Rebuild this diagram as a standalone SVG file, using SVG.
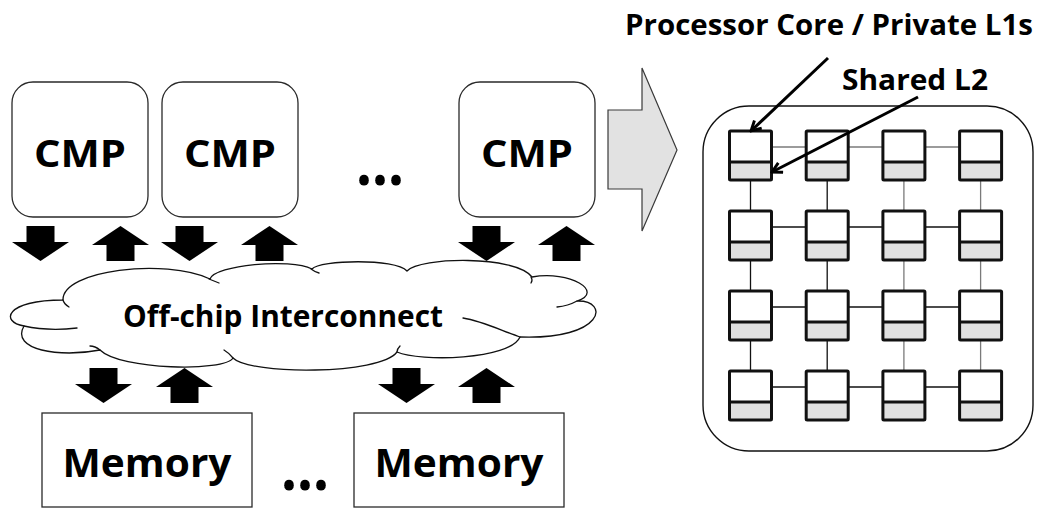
<svg xmlns="http://www.w3.org/2000/svg" width="1038" height="508" viewBox="0 0 1038 508">
  <style>
    .lbl { font-family: "Open Sans", Lato, "Liberation Sans", sans-serif; font-weight: 700; fill: #000; }
    .box { fill: #fff; stroke: #2a2a2a; stroke-width: 1.3; }
    .blk { fill: #000; }
    .cloud { fill: #fff; stroke: #111; stroke-width: 1.3; stroke-linejoin: round; }
    .tail { fill: none; stroke: #111; stroke-width: 1.3; stroke-linecap: round; }
    .tile { fill: none; stroke: #111; stroke-width: 3; stroke-linejoin: round; }
    .l2 { fill: #e0e0e0; }
    .core { fill: #fff; }
    .link { stroke: #111; stroke-width: 1.3; }
    .link.g { stroke: #7a7a7a; }
    .ptr { fill: none; stroke: #000; stroke-width: 3; marker-end: url(#chev); }
  </style>
  <defs>
    <!-- block arrows, 57 x 35 -->
    <path id="dn" d="M14.5,0 H42.5 V16 H57 L28.5,35 L0,16 H14.5 Z"/>
    <path id="up" d="M28.5,0 L57,19 H42.5 V35 H14.5 V19 H0 Z"/>
    <marker id="chev" viewBox="0 0 10 10" refX="8.6" refY="5" markerWidth="4.4" markerHeight="4.4" orient="auto" markerUnits="strokeWidth">
      <path d="M1.2,1 L8.6,5 L1.2,9" fill="none" stroke="#000" stroke-width="2.2" stroke-linejoin="miter"/>
    </marker>
    <!-- one tile: private L1 on top, shared L2 slice below -->
    <g id="tile">
      <rect class="core" x="0" y="0" width="42" height="31"/>
      <rect class="l2" x="0" y="31" width="42" height="18"/>
      <rect class="tile" x="0" y="0" width="42" height="49" rx="1"/>
      <line class="tile" x1="0" y1="31" x2="42" y2="31"/>
    </g>
  </defs>

  <!-- CMP nodes -->
  <g id="cmp-1">
    <rect class="box" x="12" y="82" width="136" height="135" rx="21"/>
    <text class="lbl" x="80" y="167" font-size="38" text-anchor="middle" textLength="92" lengthAdjust="spacingAndGlyphs">CMP</text>
  </g>
  <g id="cmp-2">
    <rect class="box" x="162" y="82" width="136" height="135" rx="21"/>
    <text class="lbl" x="230" y="167" font-size="38" text-anchor="middle" textLength="92" lengthAdjust="spacingAndGlyphs">CMP</text>
  </g>
  <g id="cmp-dots">
    <text class="lbl" x="356" y="185" font-size="64" textLength="48" lengthAdjust="spacingAndGlyphs">...</text>
  </g>
  <g id="cmp-n">
    <rect class="box" x="459" y="82" width="136" height="135" rx="21"/>
    <text class="lbl" x="527" y="167" font-size="38" text-anchor="middle" textLength="92" lengthAdjust="spacingAndGlyphs">CMP</text>
  </g>

  <!-- off-chip interconnect cloud -->
  <g id="interconnect">
    <path class="cloud" d="M63,300
      C62,270 165,258 210,279
      C215,265 290,258 312,269
      C320,260 395,258 407,271
      C420,257 515,255 532,277
      C570,270 605,292 577,301
      C610,300 605,340 520,337
      C510,360 420,362 397,352
      C380,375 250,375 233,358
      C225,372 120,370 100,350
      C60,358 10,350 24,326
      C0,322 5,300 63,300 Z"/>
    <path class="tail" d="M24,326 C42,330 60,330 77,328"/>
    <path class="tail" d="M63,300 Q64,304 69,307"/>
    <path class="tail" d="M209,279 Q214,281 219,283"/>
    <path class="tail" d="M311,269 Q315,272 319,273"/>
    <path class="tail" d="M531,277 Q533,280 531,283"/>
    <path class="tail" d="M577,301 Q568,306 557,307"/>
    <path class="tail" d="M520,337 C500,330 482,321 463,318"/>
    <path class="tail" d="M397,352 Q397,349 400,346"/>
    <path class="tail" d="M233,358 Q229,353 224,350"/>
    <path class="tail" d="M100,350 Q95,346 90,346"/>
    <text class="lbl" x="283" y="327" font-size="30" text-anchor="middle" textLength="320" lengthAdjust="spacingAndGlyphs">Off-chip Interconnect</text>
  </g>

  <!-- memory nodes -->
  <g id="memory-1">
    <rect class="box" x="42" y="413" width="210" height="94"/>
    <text class="lbl" x="147" y="477" font-size="39" text-anchor="middle" textLength="169" lengthAdjust="spacingAndGlyphs">Memory</text>
  </g>
  <g id="memory-dots">
    <text class="lbl" x="281" y="490" font-size="64" textLength="48" lengthAdjust="spacingAndGlyphs">...</text>
  </g>
  <g id="memory-n">
    <rect class="box" x="354" y="413" width="210" height="94"/>
    <text class="lbl" x="459" y="477" font-size="39" text-anchor="middle" textLength="169" lengthAdjust="spacingAndGlyphs">Memory</text>
  </g>

  <!-- expansion arrow -->
  <g id="zoom-arrow">
    <path d="M608,110 H642 V68 L677,150 L642,231 V189 H608 Z" fill="#e2e2e2" stroke="#3a3a3a" stroke-width="1.2" stroke-linejoin="miter"/>
  </g>

  <!-- tiled chip -->
  <g id="chip">
    <rect x="703" y="106" width="330" height="345" rx="46" fill="#fff" stroke="#111" stroke-width="1.4"/>
  </g>

  <g id="connectors">
    <!-- CMP <-> interconnect -->
    <use href="#dn" class="blk" x="12" y="226"/>
    <use href="#up" class="blk" x="92" y="226"/>
    <use href="#dn" class="blk" x="161" y="226"/>
    <use href="#up" class="blk" x="241" y="226"/>
    <use href="#dn" class="blk" x="458" y="226"/>
    <use href="#up" class="blk" x="538" y="226"/>
    <!-- interconnect <-> memory -->
    <use href="#dn" class="blk" x="75" y="368"/>
    <use href="#up" class="blk" x="156" y="368"/>
    <use href="#dn" class="blk" x="378" y="368"/>
    <use href="#up" class="blk" x="458" y="368"/>

    <!-- mesh links: rows -->
    <g>
      <line class="link g" x1="771.5" y1="147" x2="806.2" y2="147"/>
      <line class="link g" x1="848.2" y1="147" x2="882.9" y2="147"/>
      <line class="link g" x1="924.9" y1="147" x2="959.6" y2="147"/>
      <line class="link" x1="771.5" y1="227" x2="806.2" y2="227"/>
      <line class="link" x1="848.2" y1="227" x2="882.9" y2="227"/>
      <line class="link" x1="924.9" y1="227" x2="959.6" y2="227"/>
      <line class="link" x1="771.5" y1="307" x2="806.2" y2="307"/>
      <line class="link" x1="848.2" y1="307" x2="882.9" y2="307"/>
      <line class="link" x1="924.9" y1="307" x2="959.6" y2="307"/>
      <line class="link" x1="771.5" y1="387" x2="806.2" y2="387"/>
      <line class="link" x1="848.2" y1="387" x2="882.9" y2="387"/>
      <line class="link" x1="924.9" y1="387" x2="959.6" y2="387"/>
    </g>
    <!-- mesh links: columns -->
    <g>
      <line class="link" x1="750.5" y1="180" x2="750.5" y2="211"/>
      <line class="link" x1="750.5" y1="260" x2="750.5" y2="291"/>
      <line class="link" x1="750.5" y1="340" x2="750.5" y2="371"/>
      <line class="link" x1="827.2" y1="180" x2="827.2" y2="211"/>
      <line class="link" x1="827.2" y1="260" x2="827.2" y2="291"/>
      <line class="link" x1="827.2" y1="340" x2="827.2" y2="371"/>
      <line class="link g" x1="903.9" y1="180" x2="903.9" y2="211"/>
      <line class="link g" x1="903.9" y1="260" x2="903.9" y2="291"/>
      <line class="link g" x1="903.9" y1="340" x2="903.9" y2="371"/>
      <line class="link g" x1="980.6" y1="180" x2="980.6" y2="211"/>
      <line class="link g" x1="980.6" y1="260" x2="980.6" y2="291"/>
      <line class="link g" x1="980.6" y1="340" x2="980.6" y2="371"/>
    </g>
  </g>

  <!-- tiles -->
  <g id="tiles">
    <use id="tile-0-0" href="#tile" x="729.5" y="131"/>
    <use id="tile-0-1" href="#tile" x="806.2" y="131"/>
    <use id="tile-0-2" href="#tile" x="882.9" y="131"/>
    <use id="tile-0-3" href="#tile" x="959.6" y="131"/>
    <use id="tile-1-0" href="#tile" x="729.5" y="211"/>
    <use id="tile-1-1" href="#tile" x="806.2" y="211"/>
    <use id="tile-1-2" href="#tile" x="882.9" y="211"/>
    <use id="tile-1-3" href="#tile" x="959.6" y="211"/>
    <use id="tile-2-0" href="#tile" x="729.5" y="291"/>
    <use id="tile-2-1" href="#tile" x="806.2" y="291"/>
    <use id="tile-2-2" href="#tile" x="882.9" y="291"/>
    <use id="tile-2-3" href="#tile" x="959.6" y="291"/>
    <use id="tile-3-0" href="#tile" x="729.5" y="371"/>
    <use id="tile-3-1" href="#tile" x="806.2" y="371"/>
    <use id="tile-3-2" href="#tile" x="882.9" y="371"/>
    <use id="tile-3-3" href="#tile" x="959.6" y="371"/>
  </g>

  <!-- callouts -->
  <g id="callout-core">
    <text class="lbl" x="625" y="35" font-size="29" textLength="408" lengthAdjust="spacingAndGlyphs">Processor Core / Private L1s</text>
    <line class="ptr" x1="828" y1="58" x2="751" y2="131"/>
  </g>
  <g id="callout-l2">
    <text class="lbl" x="842" y="90" font-size="29" textLength="146" lengthAdjust="spacingAndGlyphs">Shared L2</text>
    <line class="ptr" x1="918" y1="97" x2="772" y2="172"/>
  </g>
</svg>
